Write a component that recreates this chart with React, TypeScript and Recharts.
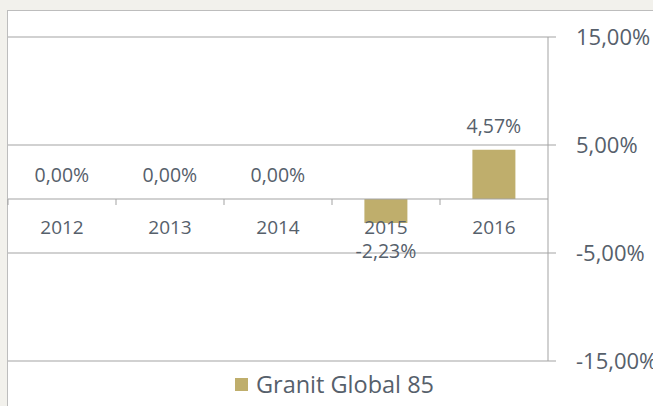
import React from "react";
import { BarChart, Bar, XAxis, YAxis, CartesianGrid, Legend, LabelList, ReferenceLine } from "recharts";

const years = ["2012", "2013", "2014", "2015", "2016"];
const returns = [0, 0, 0, -2.23, 4.57];
const yTicks = [-15, -5, 5, 15];
const seriesName = "Granit Global 85";

const data = years.map((year, i) => ({ year, value: returns[i] }));

const W = 653;
const H = 406;
const PLOT_LEFT = 8;
const PLOT_TOP = 37;
const PLOT_BOTTOM = 361;
const Y_MIN = -15;
const Y_MAX = 15;
const ZERO_Y = PLOT_TOP + ((Y_MAX - 0) / (Y_MAX - Y_MIN)) * (PLOT_BOTTOM - PLOT_TOP);

const GRID = "#a3a3a3";
const TEXT = "#56606b";
const BAR = "#bfae6c";
const FONT = "'Open Sans', sans-serif";

const pct = (v: number) => v.toFixed(2).replace(".", ",") + "%";

function CatTick(props: any) {
  const { x, payload } = props;
  const half = payload.offset ?? (540 / years.length) / 2;
  return (
    <g>
      <line x1={x - half} x2={x - half} y1={ZERO_Y} y2={ZERO_Y + 6} stroke={GRID} strokeWidth={1} />
      <text x={x} y={ZERO_Y + 28} textAnchor="middle" dominantBaseline="central" fontSize={19} fill={TEXT} fontFamily={FONT}>
        {payload.value}
      </text>
    </g>
  );
}

function ValueLabel(props: any) {
  const { x, y, width, height, value } = props;
  const cx = Number(x) + Number(width) / 2;
  const a = Number(y);
  const b = Number(y) + Number(height);
  const ty = value >= 0 ? Math.min(a, b) - 24 : Math.max(a, b) + 27;
  return (
    <text x={cx} y={ty} textAnchor="middle" dominantBaseline="central" fontSize={19.5} fill={TEXT} fontFamily={FONT}>
      {pct(value)}
    </text>
  );
}

function LegendContent() {
  return (
    <div style={{ display: "flex", alignItems: "center", justifyContent: "center", paddingLeft: 16, fontFamily: FONT }}>
      <span style={{ width: 13, height: 13, background: BAR, display: "inline-block", marginRight: 8 }} />
      <span style={{ fontSize: 23.5, color: TEXT, lineHeight: "26px" }}>{seriesName}</span>
    </div>
  );
}

export default function App() {
  return (
    <div style={{ position: "fixed", left: 0, top: 0, width: W, height: H, background: "#f2f1ec", overflow: "hidden" }}>
      <div
        style={{
          position: "absolute",
          left: 7,
          top: 10,
          width: 660,
          height: 410,
          background: "#fff",
          border: "1px solid #bdbdbd",
          boxSizing: "border-box",
        }}
      />
      <div style={{ position: "absolute", left: 0, top: 0 }}>
        <BarChart
          width={W}
          height={H}
          data={data}
          margin={{ top: PLOT_TOP, right: 0, left: PLOT_LEFT, bottom: 14 }}
          barCategoryGap="30%"
          style={{ fontFamily: FONT }}
        >
          <CartesianGrid horizontal vertical={false} stroke={GRID} />
          <XAxis dataKey="year" axisLine={false} tickLine={false} height={1} tick={<CatTick />} interval={0} />
          <XAxis dataKey="year" xAxisId="labels" hide />
          <YAxis
            orientation="right"
            domain={[Y_MIN, Y_MAX]}
            ticks={yTicks}
            tickFormatter={pct}
            width={105}
            axisLine={{ stroke: GRID }}
            tickLine={{ stroke: GRID }}
            tickSize={8}
            tickMargin={20}
            tick={{ fontSize: 22, fill: TEXT, fontFamily: FONT }}
            interval={0}
          />
          <ReferenceLine y={0} stroke={GRID} />
          <Legend
            verticalAlign="bottom"
            height={30}
            content={<LegendContent />}
            wrapperStyle={{ left: 0, width: W, top: 371 }}
          />
          <Bar dataKey="value" name={seriesName} fill={BAR} isAnimationActive={false} />
          <Bar
            dataKey="value"
            xAxisId="labels"
            fill="transparent"
            minPointSize={1}
            legendType="none"
            isAnimationActive={false}
          >
            <LabelList dataKey="value" content={<ValueLabel />} />
          </Bar>
        </BarChart>
      </div>
    </div>
  );
}
